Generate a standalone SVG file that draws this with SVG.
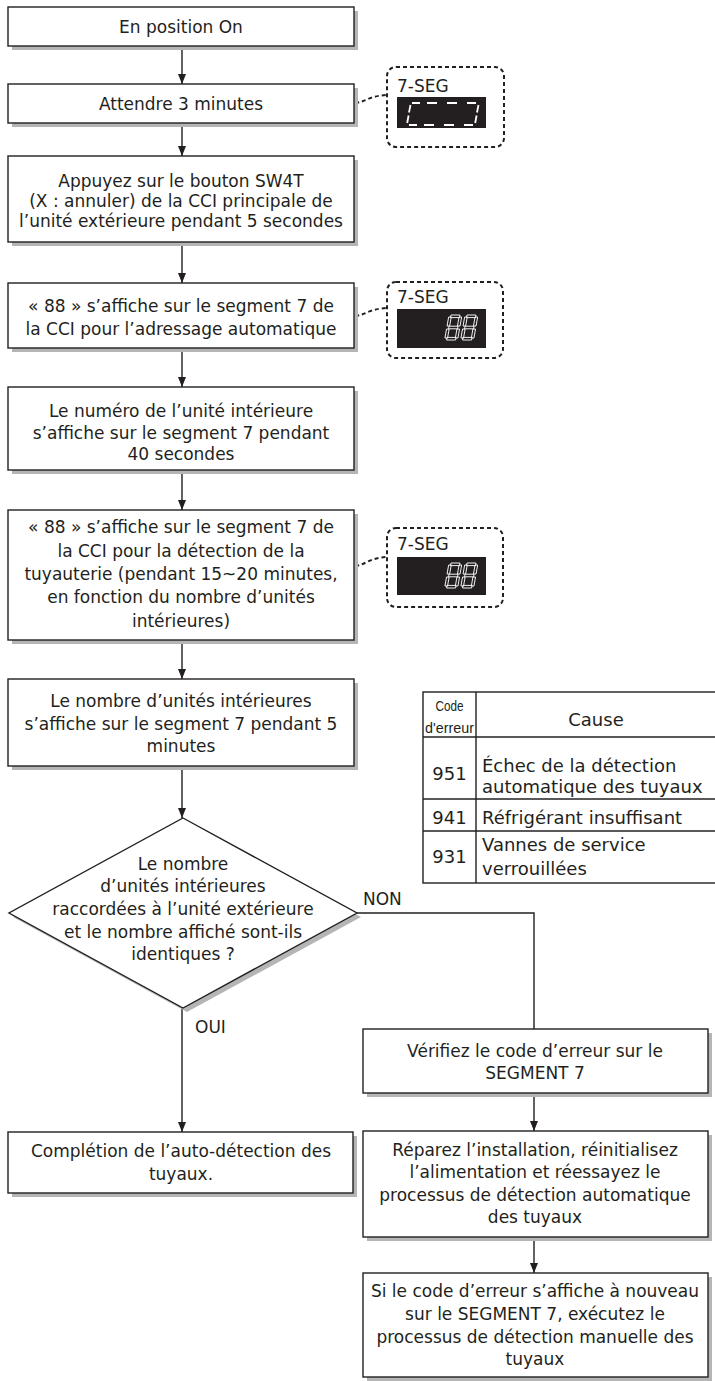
<svg xmlns="http://www.w3.org/2000/svg" width="715" height="1381" viewBox="0 0 715 1381">
<style>
.box{fill:#fff;stroke:#231f20;stroke-width:1.4}
.sh{fill:#b5b5b5}
.t{font-family:"DejaVu Sans","Noto Sans",sans-serif;font-size:17px;fill:#231f20;text-anchor:middle}
.tl{font-family:"DejaVu Sans","Noto Sans",sans-serif;font-size:17px;fill:#231f20}
.tb{font-size:18px}
.nar{font-family:"Liberation Sans Narrow","Liberation Sans",sans-serif;font-size:14px;fill:#231f20;text-anchor:middle}
.conn{stroke:#231f20;stroke-width:1.4;fill:none}
.dash{stroke:#231f20;stroke-width:2;fill:none;stroke-dasharray:4 3}
.seg{fill:none;stroke:#fff;stroke-width:0.9}
.sl{stroke:#fff;stroke-width:1.8;fill:none}
.tbl{stroke:#231f20;stroke-width:1.4;fill:none}
</style>
<defs>
<marker id="ah" markerUnits="userSpaceOnUse" viewBox="0 0 10 8" refX="10" refY="4" markerWidth="10" markerHeight="8" orient="auto">
<path d="M0,0 L10,4 L0,8 z" fill="#231f20"/>
</marker>
<g id="d8">
<rect class="seg" x="2" y="0" width="9" height="2.6"/>
<rect class="seg" x="2" y="11.2" width="9" height="2.6"/>
<rect class="seg" x="2" y="22.4" width="9" height="2.6"/>
<rect class="seg" x="0" y="2" width="2.6" height="9"/>
<rect class="seg" x="0" y="14" width="2.6" height="9"/>
<rect class="seg" x="10.4" y="2" width="2.6" height="9"/>
<rect class="seg" x="10.4" y="14" width="2.6" height="9"/>
</g>
</defs>

<g id="connectors">
<line class="conn" x1="182" y1="46" x2="182" y2="84" marker-end="url(#ah)"/>
<line class="conn" x1="182" y1="123" x2="182" y2="156" marker-end="url(#ah)"/>
<line class="conn" x1="182" y1="242" x2="182" y2="283" marker-end="url(#ah)"/>
<line class="conn" x1="182" y1="348" x2="182" y2="387" marker-end="url(#ah)"/>
<line class="conn" x1="182" y1="470" x2="182" y2="510" marker-end="url(#ah)"/>
<line class="conn" x1="182" y1="640" x2="182" y2="679" marker-end="url(#ah)"/>
<line class="conn" x1="182" y1="766" x2="182" y2="818" marker-end="url(#ah)"/>
<line class="conn" x1="182" y1="1008" x2="182" y2="1132" marker-end="url(#ah)"/>
<polyline class="conn" points="357,913 534,913 534,1029"/>
<line class="conn" x1="534" y1="1093" x2="534" y2="1131" marker-end="url(#ah)"/>
<line class="conn" x1="534" y1="1237" x2="534" y2="1273" marker-end="url(#ah)"/>
<path class="dash" d="M355,103 C366,102 368,96 387,95"/>
<path class="dash" d="M355,316 C366,315 368,309 387,308"/>
<path class="dash" d="M355,566 C366,565 368,558 387,557"/>
<text class="tl" x="363" y="905">NON</text>
<text class="tl" x="195" y="1033">OUI</text>
</g>

<g id="n1">
<rect class="sh" x="12" y="11" width="346" height="39"/>
<rect class="box" x="8" y="7" width="346" height="39"/>
<text class="t" x="181" y="33">En position On</text>
</g>
<g id="n2">
<rect class="sh" x="12" y="88" width="346" height="39"/>
<rect class="box" x="8" y="84" width="346" height="39"/>
<text class="t" x="181" y="110">Attendre 3 minutes</text>
</g>
<g id="seg1">
<rect class="dash" x="387" y="67" width="117" height="80" rx="9"/>
<text class="tl" x="397" y="92">7-SEG</text>
<rect x="397" y="97" width="89" height="31" fill="#231f20"/>
<path class="sl" d="M412,103 L420,103 M427,103 L437,103 M447,103 L457,103 M467,103 L476,103"/>
<path class="sl" d="M409,125 L417,125 M424,125 L434,125 M444,125 L454,125 M464,125 L473,125"/>
<path class="sl" d="M410.5,105 L409,112.5 M408.6,115.5 L407.2,123"/>
<path class="sl" d="M478.5,105 L477,112.5 M476.6,115.5 L475.2,123"/>
</g>
<g id="n3">
<rect class="sh" x="12" y="160" width="346" height="86"/>
<rect class="box" x="8" y="156" width="346" height="86"/>
<text class="t" x="181" y="187">Appuyez sur le bouton SW4T</text>
<text class="t" x="181" y="207">(X : annuler) de la CCI principale de</text>
<text class="t" x="181" y="227">l’unité extérieure pendant 5 secondes</text>
</g>
<g id="n4">
<rect class="sh" x="12" y="287" width="346" height="65"/>
<rect class="box" x="8" y="283" width="346" height="65"/>
<text class="t" x="181" y="312">« 88 » s’affiche sur le segment 7 de</text>
<text class="t" x="181" y="335">la CCI pour l’adressage automatique</text>
</g>
<g id="seg2">
<rect class="dash" x="387" y="282" width="116" height="76" rx="9"/>
<text class="tl" x="397" y="303">7-SEG</text>
<rect x="397" y="309" width="89" height="39" fill="#231f20"/>
<use href="#d8" transform="translate(449,315) skewX(-10)"/>
<use href="#d8" transform="translate(465,315) skewX(-10)"/>
</g>
<g id="n5">
<rect class="sh" x="12" y="391" width="346" height="83"/>
<rect class="box" x="8" y="387" width="346" height="83"/>
<text class="t" x="181" y="417">Le numéro de l’unité intérieure</text>
<text class="t" x="181" y="439">s’affiche sur le segment 7 pendant</text>
<text class="t" x="181" y="460">40 secondes</text>
</g>
<g id="n6">
<rect class="sh" x="12" y="514" width="346" height="130"/>
<rect class="box" x="8" y="510" width="346" height="130"/>
<text class="t" x="181" y="533">« 88 » s’affiche sur le segment 7 de</text>
<text class="t" x="181" y="557">la CCI pour la détection de la</text>
<text class="t" x="181" y="580">tuyauterie (pendant 15~20 minutes,</text>
<text class="t" x="181" y="603">en fonction du nombre d’unités</text>
<text class="t" x="181" y="627">intérieures)</text>
</g>
<g id="seg3">
<rect class="dash" x="387" y="528" width="116" height="79" rx="9"/>
<text class="tl" x="397" y="550">7-SEG</text>
<rect x="397" y="557" width="89" height="38" fill="#231f20"/>
<use href="#d8" transform="translate(449,563) skewX(-10)"/>
<use href="#d8" transform="translate(465,563) skewX(-10)"/>
</g>
<g id="n7">
<rect class="sh" x="12" y="683" width="346" height="87"/>
<rect class="box" x="8" y="679" width="346" height="87"/>
<text class="t" x="181" y="707">Le nombre d’unités intérieures</text>
<text class="t" x="181" y="730">s’affiche sur le segment 7 pendant 5</text>
<text class="t" x="181" y="752">minutes</text>
</g>
<g id="table">
<rect class="tbl" x="423" y="692" width="294" height="191" fill="#fff"/>
<line class="tbl" x1="476" y1="692" x2="476" y2="883"/>
<line class="tbl" x1="423" y1="737" x2="717" y2="737"/>
<line class="tbl" x1="423" y1="799" x2="717" y2="799"/>
<line class="tbl" x1="423" y1="831" x2="717" y2="831"/>
<text class="nar" x="449.5" y="711" textLength="28" lengthAdjust="spacingAndGlyphs">Code</text>
<text class="nar" x="449.5" y="733" textLength="49" lengthAdjust="spacingAndGlyphs">d'erreur</text>
<text class="t tb" x="596" y="726">Cause</text>
<text class="t tb" x="449.5" y="780">951</text>
<text class="tl tb" x="482" y="772">Échec de la détection</text>
<text class="tl tb" x="482" y="793">automatique des tuyaux</text>
<text class="t tb" x="449.5" y="824">941</text>
<text class="tl tb" x="482" y="824">Réfrigérant insuffisant</text>
<text class="t tb" x="449.5" y="863">931</text>
<text class="tl tb" x="482" y="851">Vannes de service</text>
<text class="tl tb" x="482" y="875">verrouillées</text>
</g>
<g id="decision">
<polygon class="sh" points="187,822 361,917 187,1012 13,917"/>
<polygon class="box" points="183,818 357,913 183,1008 9,913"/>
<text class="t" x="183" y="870">Le nombre</text>
<text class="t" x="183" y="892">d’unités intérieures</text>
<text class="t" x="183" y="915">raccordées à l’unité extérieure</text>
<text class="t" x="183" y="938">et le nombre affiché sont-ils</text>
<text class="t" x="183" y="960">identiques ?</text>
</g>
<g id="n9">
<rect class="sh" x="12" y="1136" width="345" height="61"/>
<rect class="box" x="8" y="1132" width="345" height="61"/>
<text class="t" x="181" y="1157">Complétion de l’auto-détection des</text>
<text class="t" x="181" y="1180">tuyaux.</text>
</g>
<g id="n10">
<rect class="sh" x="367" y="1033" width="345" height="64"/>
<rect class="box" x="363" y="1029" width="345" height="64"/>
<text class="t" x="535" y="1057">Vérifiez le code d’erreur sur le</text>
<text class="t" x="535" y="1079">SEGMENT 7</text>
</g>
<g id="n11">
<rect class="sh" x="367" y="1135" width="345" height="106"/>
<rect class="box" x="363" y="1131" width="345" height="106"/>
<text class="t" x="535" y="1156">Réparez l’installation, réinitialisez</text>
<text class="t" x="535" y="1178">l’alimentation et réessayez le</text>
<text class="t" x="535" y="1201">processus de détection automatique</text>
<text class="t" x="535" y="1223">des tuyaux</text>
</g>
<g id="n12">
<rect class="sh" x="367" y="1277" width="345" height="104"/>
<rect class="box" x="363" y="1273" width="345" height="104"/>
<text class="t" x="535" y="1297">Si le code d’erreur s’affiche à nouveau</text>
<text class="t" x="535" y="1320">sur le SEGMENT 7, exécutez le</text>
<text class="t" x="535" y="1343">processus de détection manuelle des</text>
<text class="t" x="535" y="1365">tuyaux</text>
</g>
</svg>
